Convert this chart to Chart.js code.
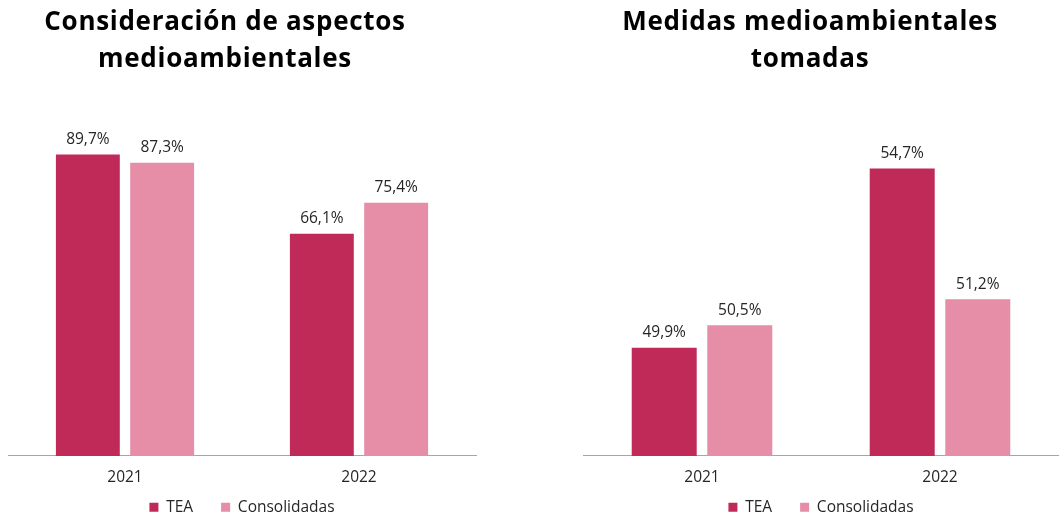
<!DOCTYPE html>
<html>
<head>
<meta charset="utf-8">
<script src="https://cdn.jsdelivr.net/npm/chart.js@4"></script>
<style>
  body { margin: 0; background: #fff; }
  #wrap { position: relative; width: 1059px; height: 517px; }
  .title {
    position: absolute; top: 2px; text-align: center;
    font-family: "Open Sans", sans-serif; font-weight: 700; font-size: 26px;
    letter-spacing: 0.7px; line-height: 37px; color: #000;
  }
  .box { position: absolute; top: 0; height: 517px; }
</style>
</head>
<body>
<div id="wrap">
  <div class="box" style="left:0;width:530px"><canvas id="leftChart"></canvas></div>
  <div class="box" style="left:530px;width:529px"><canvas id="rightChart"></canvas></div>
  <div class="title" style="left:0;width:450px">Consideración de aspectos<br>medioambientales</div>
  <div class="title" style="left:590px;width:440px">Medidas medioambientales<br>tomadas</div>
</div>
<script>
const years = ["2021", "2022"];
const seriesNames = ["TEA", "Consolidadas"];
const colors = ["#C02A59", "#E68DA8"];

// Consideración de aspectos medioambientales
const consideracionTEA = [89.7, 66.1];
const consideracionConsolidadas = [87.3, 75.4];

// Medidas medioambientales tomadas
const medidasTEA = [49.9, 54.7];
const medidasConsolidadas = [50.5, 51.2];

const fontFamily = "'Open Sans', sans-serif";
const textColor = "#262626";

// values printed above each bar
const barLabels = {
  id: "barLabels",
  afterDatasetsDraw(chart) {
    const ctx = chart.ctx;
    ctx.save();
    ctx.font = "15.5px " + fontFamily;
    ctx.fillStyle = textColor;
    ctx.textAlign = "center";
    ctx.textBaseline = "middle";
    chart.data.datasets.forEach((ds, i) => {
      chart.getDatasetMeta(i).data.forEach((bar, j) => {
        const txt = ds.data[j].toFixed(1).replace(".", ",") + "%";
        ctx.fillText(txt, bar.x, bar.y - 15);
      });
    });
    ctx.restore();
  },
};

// wide gap between legend items, but keep the legend close to the axis
const legendShift = {
  id: "legendShift",
  afterLayout(chart) {
    chart.legend.top -= 27;
    chart.legend.bottom -= 27;
  },
};

function makeChart(id, tea, consolidadas, yMin, yMax, pad) {
  const ctx = document.getElementById(id);
  return new Chart(ctx, {
    type: "bar",
    data: {
      labels: years,
      datasets: [
        { label: seriesNames[0], data: tea, backgroundColor: colors[0] },
        { label: seriesNames[1], data: consolidadas, backgroundColor: colors[1] },
      ],
    },
    plugins: [barLabels, legendShift],
    options: {
      responsive: true,
      maintainAspectRatio: false,
      animation: false,
      barPercentage: 0.86,
      categoryPercentage: 0.635,
      layout: { padding: pad },
      plugins: {
        title: { display: false },
        tooltip: { enabled: false },
        legend: {
          position: "bottom",
          labels: {
            boxWidth: 9,
            boxHeight: 9,
            padding: 28,
            color: textColor,
            font: { family: fontFamily, size: 15.5 },
          },
        },
      },
      scales: {
        x: {
          grid: { display: false, drawTicks: false },
          border: { display: true, color: "#A6A6A6", width: 1 },
          ticks: {
            padding: 12,
            color: textColor,
            font: { family: fontFamily, size: 15.5 },
          },
        },
        y: {
          display: false,
          min: yMin,
          max: yMax,
        },
      },
    },
  });
}

makeChart("leftChart", consideracionTEA, consideracionConsolidadas, 0, 100,
  { top: 120, left: 8, right: 54, bottom: -35 });
makeChart("rightChart", medidasTEA, medidasConsolidadas, 47, 56,
  { top: 120, left: 53, right: 0, bottom: -35 });
</script>
</body>
</html>
